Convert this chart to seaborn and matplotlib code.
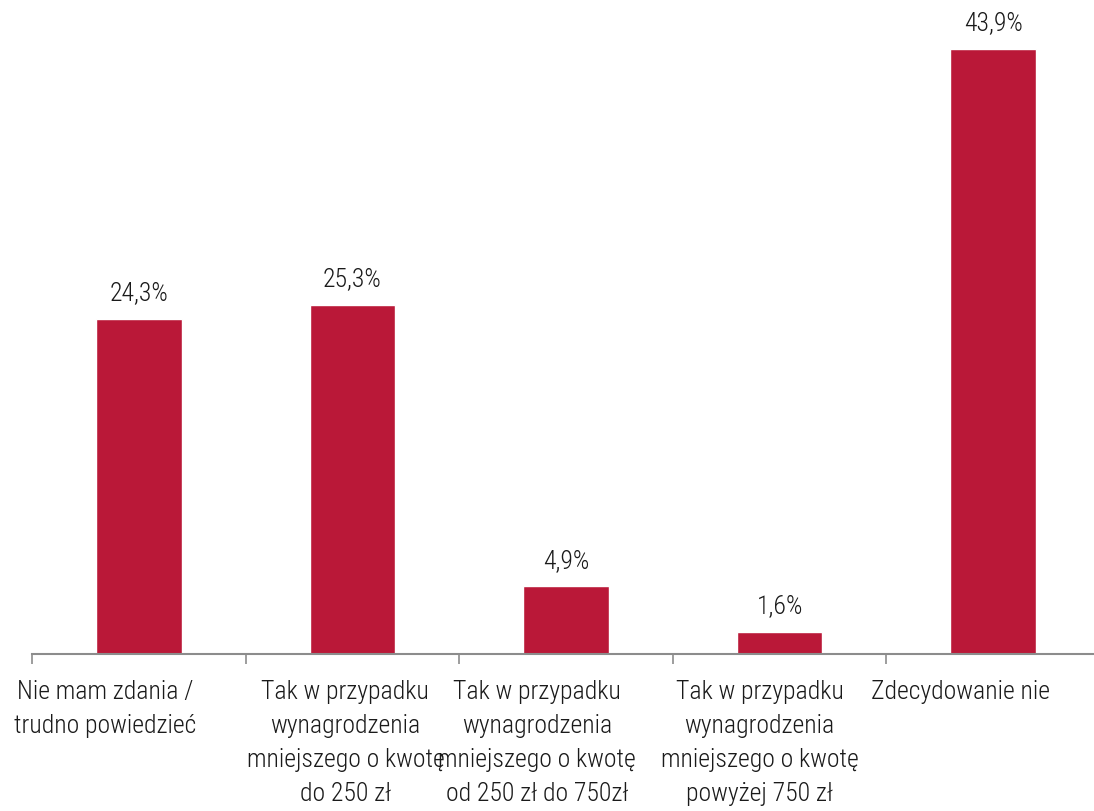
import matplotlib.pyplot as plt
import matplotlib.transforms as mtransforms
import seaborn as sns
from matplotlib import font_manager

categories = [
    "Nie mam zdania /\ntrudno powiedzieć",
    "Tak w przypadku\nwynagrodzenia\nmniejszego o kwotę\ndo 250 zł",
    "Tak w przypadku\nwynagrodzenia\nmniejszego o kwotę\nod 250 zł do 750zł",
    "Tak w przypadku\nwynagrodzenia\nmniejszego o kwotę\npowyżej 750 zł",
    "Zdecydowanie nie",
]
values = [24.3, 25.3, 4.9, 1.6, 43.9]
value_labels = ["24,3%", "25,3%", "4,9%", "1,6%", "43,9%"]

sns.set_style("white")
names = {f.name for f in font_manager.fontManager.ttflist}
family = "Roboto Condensed" if "Roboto Condensed" in names else "Roboto"
plt.rcParams["font.family"] = [family, "DejaVu Sans"]
plt.rcParams["font.weight"] = "light"

fig = plt.figure(figsize=(10.94, 8.11), dpi=100)
ax = fig.add_axes([32 / 1094, 157 / 811, 1068 / 1094, 648 / 811])

sns.barplot(x=list(range(len(values))), y=values, color="#BA1838",
            width=0.4, saturation=1, ax=ax)

for i, (v, lab) in enumerate(zip(values, value_labels)):
    ax.text(i, v + 1.0, lab, ha="center", va="bottom", fontsize=18.5,
            color="#1a1a1a", fontweight="light")

ax.set_xlim(-0.5, 4.5)
ax.set_ylim(0, 47)
ax.set_yticks([])
ax.set_xticks(range(len(categories)))
ax.set_xticklabels(categories, fontsize=18.5, color="#1a1a1a", linespacing=1.52,
                   fontweight="light")
ax.tick_params(axis="x", which="major", length=0, pad=19, bottom=True)
ax.set_xticks([i - 0.5 for i in range(len(categories) + 1)], minor=True)
ax.tick_params(axis="x", which="minor", length=7, width=1.2, color="#8c8c8c",
               direction="out", bottom=True)

# excel-style label placement sits left of the category centres
shifts = [-34, -7, -29, -20, -33]
for lbl, dx in zip(ax.get_xticklabels(), shifts):
    lbl.set_transform(lbl.get_transform() +
                      mtransforms.ScaledTranslation(dx / 100, 0, fig.dpi_scale_trans))

for s in ["top", "right", "left"]:
    ax.spines[s].set_visible(False)
ax.spines["bottom"].set_color("#8c8c8c")
ax.spines["bottom"].set_linewidth(1.5)
ax.set_xlabel("")
ax.set_ylabel("")

fig.savefig("out.png", dpi=100)
